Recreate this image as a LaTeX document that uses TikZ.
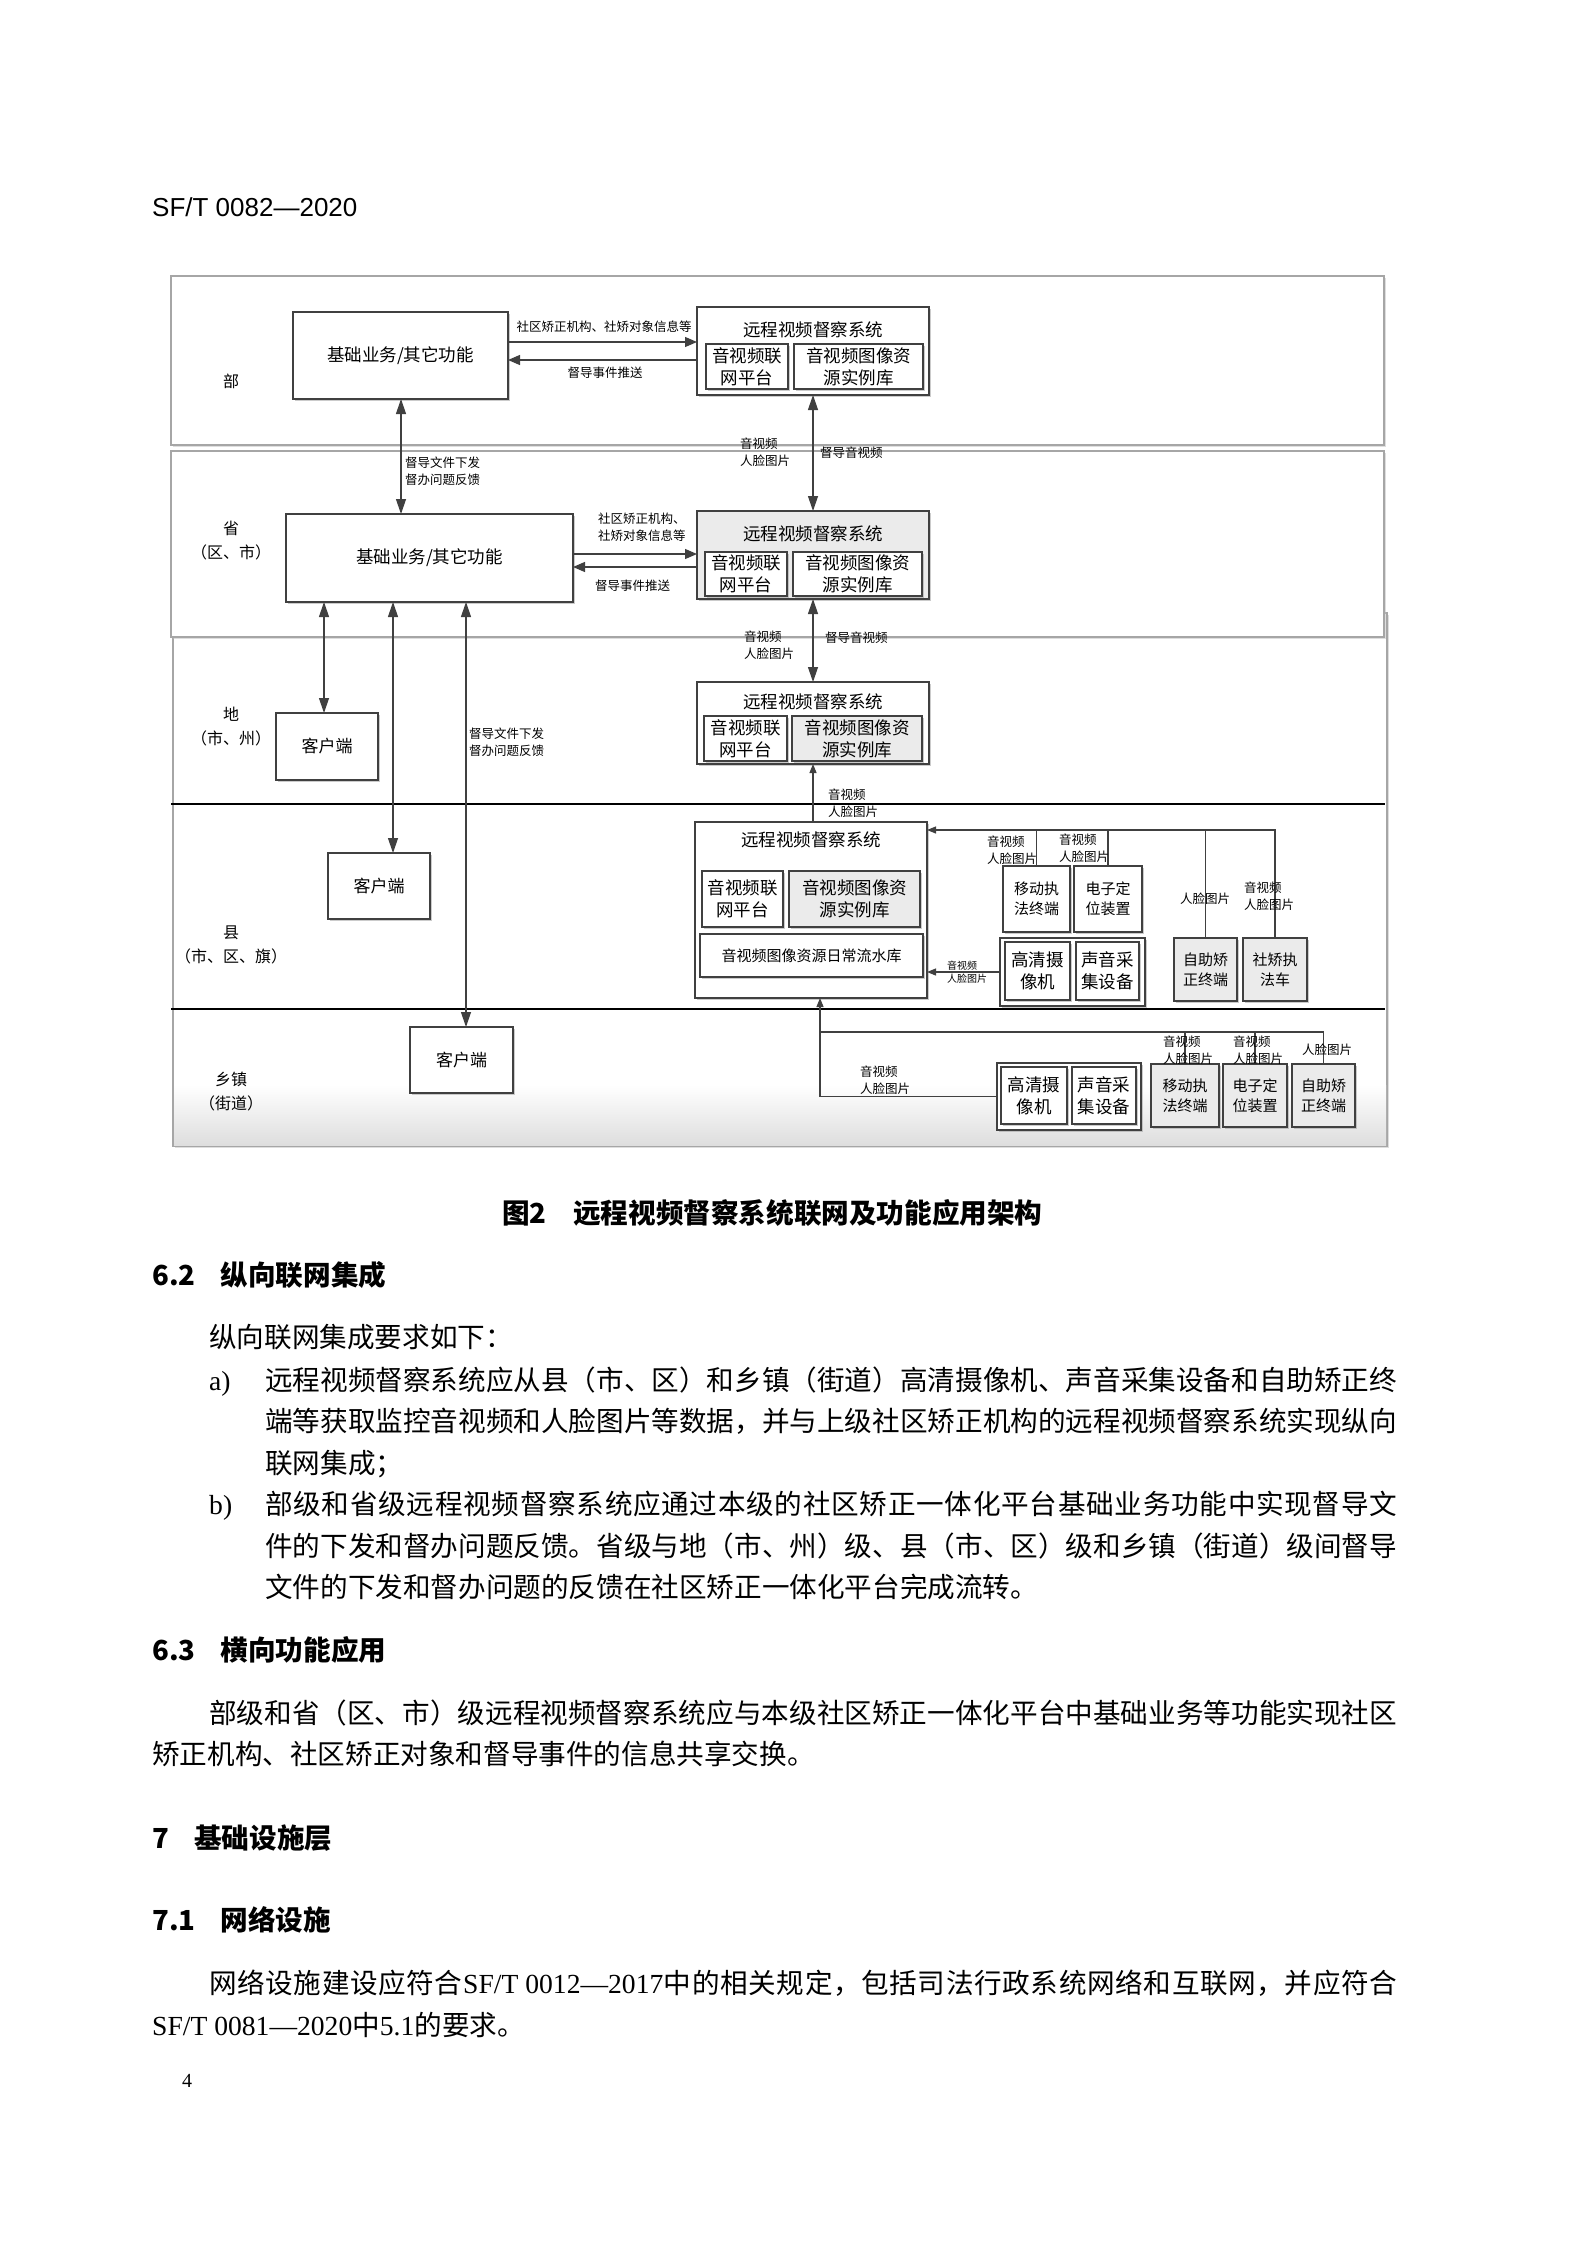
\documentclass[tikz,border=0pt]{standalone}
\usepackage{fontspec}
\usetikzlibrary{arrows.meta,shadows,fit}
\newfontfamily\cjk{Noto Sans CJK SC}
\newfontfamily\lat{Liberation Serif}
\newfontfamily\hdrf{Liberation Sans}
\definecolor{ln}{HTML}{404040}
\definecolor{bd}{HTML}{A6A6A6}
\definecolor{gf}{HTML}{EBEBEB}
\makeatletter
\def\spx#1{#1\futurelet\spnext\spxb}
\def\spxb{\ifx\spnext\relax\expandafter\@gobble\else\hfil\expandafter\spx\fi}
\makeatother
\newcommand{\jl}[2]{\hbox to #1{\spx#2\relax}}
\newcommand{\lt}[1]{\mbox{\lat #1}}
\begin{document}
\begin{tikzpicture}[x=1pt,y=-1pt,
  band/.style={draw=bd, line width=1.5pt, fill=white, inner sep=0pt, outer sep=0pt,
     drop shadow={shadow xshift=2pt,shadow yshift=-2pt,fill=black!25}},
  box/.style={draw=ln, line width=1.2pt, fill=white, inner sep=0pt, outer sep=0pt, align=center,
     font=\cjk\fontsize{17.5}{22}\selectfont,
     drop shadow={shadow xshift=1.5pt,shadow yshift=-1.5pt,fill=black!40}},
  gbox/.style={box, fill=gf},
  sz/.style 2 args={minimum width=#1, minimum height=#2},
  mid/.style={font=\cjk\fontsize{15}{20}\selectfont},
  kfont/.style={font=\cjk\fontsize{17}{22}\selectfont},
  ttl/.style={inner sep=0pt, font=\cjk\fontsize{17.5}{22}\selectfont},
  lv/.style={inner sep=0pt, align=center, font=\cjk\fontsize{16}{24}\selectfont},
  lbl/.style={inner sep=0pt, anchor=west, align=left, font=\cjk\fontsize{12.5}{17.5}\selectfont},
  lblc/.style={inner sep=0pt, font=\cjk\fontsize{12.5}{17.5}\selectfont},
  tiny/.style={inner sep=0pt, anchor=west, align=left, font=\cjk\fontsize{10}{13}\selectfont},
  sep/.style={draw=black, line width=1.5pt},
  cn/.style={draw=ln, line width=1.2pt},
  arr/.style={cn, >={Triangle[length=12pt,width=10pt]}, ->},
  dbl/.style={cn, >={Triangle[length=15pt,width=10pt]}, <->},
  sarr/.style={cn, >={Triangle[length=9pt,width=7pt]}, ->},
  body/.style={inner sep=0pt, anchor=base west, font=\cjk\fontsize{27.6}{41.5}\selectfont},
  hd/.style={inner sep=0pt, anchor=base west, font=\cjk\bfseries\fontsize{27.6}{41.5}\selectfont}
]
\fill[white] (0,0) rectangle (1587,2245);
\useasboundingbox (0,0) rectangle (1587,2245);

% ---------- page text ----------
\node[inner sep=0pt, anchor=base west, font=\hdrf\fontsize{26}{30}\selectfont] (hdr) at (152,216) {SF/T 0082—2020};

% ---------- bands ----------
\node[band, fit={(173,613)(1387,1146)}] (bandL) {};
\shade[top color=white, bottom color=black!13] (174,1085) rectangle (1386,1145);
\node[band, fit={(171,276)(1384,445)}] (bandB) {};
\node[band, fit={(171,451)(1384,637)}] (bandS) {};
\draw[sep] (171,804) -- (1385,804);
\draw[sep] (171,1009) -- (1385,1009);

% level labels
\node[lv] (lvB) at (231,381) {部};
\node[lv] (lvS) at (231,541) {省\\（区、市）};
\node[lv] (lvD) at (231,727) {地\\（市、州）};
\node[lv] (lvX) at (231,945) {县\\（市、区、旗）};
\node[lv] (lvZ) at (231,1092) {乡镇\\（街道）};

% ---------- 部 ----------
\node[box, sz={215}{87}] (jb1) at (400.5,355.5) {基础业务/其它功能};
\node[box, sz={232}{88}] (rs1) at (813,351) {};
\node[ttl] (t1) at (813,330) {远程视频督察系统};
\node[box, sz={82}{45}] (rs1a) at (747,366.5) {音视频联\\网平台};
\node[box, sz={129}{45}] (rs1b) at (858.5,366.5) {音视频图像资\\源实例库};

% ---------- 省 ----------
\node[box, sz={287}{88}] (jb2) at (429.5,558) {基础业务/其它功能};
\node[gbox, sz={232}{88}] (rs2) at (813,555) {};
\node[ttl] (t2) at (813,534) {远程视频督察系统};
\node[box, sz={82}{44}] (rs2a) at (746,574) {音视频联\\网平台};
\node[box, sz={129}{44}] (rs2b) at (857.5,574) {音视频图像资\\源实例库};

% ---------- 地 ----------
\node[box, kfont, sz={102}{67}] (kh1) at (327,746.5) {客户端};
\node[box, sz={232}{82}] (rs3) at (813,723) {};
\node[ttl] (t3) at (813,702) {远程视频督察系统};
\node[box, sz={83}{45}] (rs3a) at (745.5,738.5) {音视频联\\网平台};
\node[gbox, sz={130}{45}] (rs3b) at (857,738.5) {音视频图像资\\源实例库};

% ---------- 县 ----------
\node[box, kfont, sz={102}{66}] (kh2) at (379,886) {客户端};
\node[box, sz={232}{176}] (rs4) at (811,910) {};
\node[ttl] (t4) at (811,840) {远程视频督察系统};
\node[box, sz={81}{56}] (rs4a) at (742.5,899) {音视频联\\网平台};
\node[gbox, sz={131}{56}] (rs4b) at (854.5,899) {音视频图像资\\源实例库};
\node[box, mid, sz={223}{43}] (rs4c) at (811.5,955.5) {音视频图像资源日常流水库};
\node[box, mid, sz={67}{66}] (yd4) at (1036.5,899) {移动执\\法终端};
\node[box, mid, sz={68}{66}] (dz4) at (1108,899) {电子定\\位装置};
\node[box, sz={145}{68}] (grp4) at (1072.5,972) {};
\node[box, sz={65}{58}] (gq4) at (1037.5,971) {高清摄\\像机};
\node[box, sz={63}{58}] (sy4) at (1107.5,971) {声音采\\集设备};
\node[gbox, mid, sz={63}{63}] (zz4) at (1205.5,969.5) {自助矫\\正终端};
\node[gbox, mid, sz={64}{63}] (sj4) at (1275,969.5) {社矫执\\法车};

% ---------- 乡镇 ----------
\node[box, kfont, sz={103}{66}] (kh3) at (461.5,1060) {客户端};
\node[box, sz={144}{67}] (grp5) at (1069,1096.5) {};
\node[box, sz={66}{57}] (gq5) at (1034,1095.5) {高清摄\\像机};
\node[box, sz={64}{57}] (sy5) at (1104,1095.5) {声音采\\集设备};
\node[gbox, mid, sz={68}{63}] (yd5) at (1185,1095.5) {移动执\\法终端};
\node[gbox, mid, sz={64}{63}] (dz5) at (1255,1095.5) {电子定\\位装置};
\node[gbox, mid, sz={63}{63}] (zz5) at (1323.5,1095.5) {自助矫\\正终端};

% ---------- coordinates ----------
\coordinate (h1) at (0,342);
\coordinate (h2) at (0,360);
\coordinate (h3) at (0,554);
\coordinate (h4) at (0,567);
\coordinate (v1) at (401,0);
\coordinate (x324) at (324,0);
\coordinate (x393) at (393,0);
\coordinate (x466) at (466,0);
\coordinate (x820) at (820,0);
\coordinate (b4) at (0,830);
\coordinate (b5) at (0,1032);

% ---------- connectors ----------
\draw[arr] (jb1.east |- h1) -- (rs1.west |- h1);
\draw[arr] (rs1.west |- h2) -- (jb1.east |- h2);
\draw[arr] (jb2.east |- h3) -- (rs2.west |- h3);
\draw[arr] (rs2.west |- h4) -- (jb2.east |- h4);
\draw[dbl] (jb1.south -| v1) -- (jb2.north -| v1);
\draw[dbl] (rs1.south) -- (rs2.north);
\draw[dbl] (rs2.south) -- (rs3.north);
\draw[dbl] (jb2.south -| x324) -- (kh1.north -| x324);
\draw[dbl] (jb2.south -| x393) -- (kh2.north -| x393);
\draw[dbl] (jb2.south -| x466) -- (kh3.north -| x466);
\draw[sarr] (rs4.north -| rs3.south) -- (rs3.south);
% county bus
\draw[sarr] (sj4.north) |- (rs4.east |- b4);
\draw[cn] (yd4.north) -- (yd4.north |- b4);
\draw[cn] (dz4.north) -- (dz4.north |- b4);
\draw[cn] (zz4.north) -- (zz4.north |- b4);
\draw[sarr] (grp4.west) -- (grp4.west -| rs4.east);
% township
\draw[sarr] (grp5.west) -| (rs4.south -| x820);
\draw[cn] (x820 |- b5) -| (zz5.north);
\draw[cn] (yd5.north |- b5) -- (yd5.north);
\draw[cn] (dz5.north |- b5) -- (dz5.north);

% ---------- connector labels ----------
\node[lblc] (l1) at (604,327) {社区矫正机构、社矫对象信息等};
\node[lblc] (l2) at (605,373) {督导事件推送};
\node[lbl] (l3) at (405,471) {督导文件下发\\督办问题反馈};
\node[lbl] (l4) at (740,452) {音视频\\人脸图片};
\node[lbl] (l5) at (820,453) {督导音视频};
\node[lbl] (l6) at (598,527) {社区矫正机构、\\社矫对象信息等};
\node[lbl] (l7) at (595,586) {督导事件推送};
\node[lbl] (l8) at (469,742) {督导文件下发\\督办问题反馈};
\node[lbl] (l9) at (744,645) {音视频\\人脸图片};
\node[lbl] (l10) at (825,638) {督导音视频};
\node[lbl] (l11) at (828,803) {音视频\\人脸图片};
\node[lbl] (l12) at (987,850) {音视频\\人脸图片};
\node[lbl] (l13) at (1059,848) {音视频\\人脸图片};
\node[lbl] (l14) at (1180,899) {人脸图片};
\node[lbl] (l15) at (1244,896) {音视频\\人脸图片};
\node[tiny] (l16) at (947,972) {音视频\\人脸图片};
\node[lbl] (l17) at (860,1080) {音视频\\人脸图片};
\node[lbl] (l18) at (1163,1050) {音视频\\人脸图片};
\node[lbl] (l19) at (1233,1050) {音视频\\人脸图片};
\node[lbl] (l20) at (1302,1050) {人脸图片};

% ---------- caption and body ----------
\node[hd] (capn) at (502,1223) {图2};
\node[hd] (cap) at (573,1223) {远程视频督察系统联网及功能应用架构};
\node[hd] (h62n) at (152,1285) {6.2};
\node[hd] (h62) at (220.5,1285) {纵向联网集成};
\node[body] (p1) at (209,1347) {纵向联网集成要求如下：};
\node[body] (p2n) at (209,1390) {\lt{a)}};
\node[body] (p2) at (265,1390) {\jl{1132pt}{远程视频督察系统应从县（市、区）和乡镇（街道）高清摄像机、声音采集设备和自助矫正终}};
\node[body] (p3) at (265,1431.5) {\jl{1132pt}{端等获取监控音视频和人脸图片等数据，并与上级社区矫正机构的远程视频督察系统实现纵向}};
\node[body] (p4) at (265,1473) {联网集成；};
\node[body] (p5n) at (209,1514.5) {\lt{b)}};
\node[body] (p5) at (265,1514.5) {\jl{1132pt}{部级和省级远程视频督察系统应通过本级的社区矫正一体化平台基础业务功能中实现督导文}};
\node[body] (p6) at (265,1556) {\jl{1132pt}{件的下发和督办问题反馈。省级与地（市、州）级、县（市、区）级和乡镇（街道）级间督导}};
\node[body] (p7) at (265,1597.5) {文件的下发和督办问题的反馈在社区矫正一体化平台完成流转。};
\node[hd] (h63n) at (152,1660) {6.3};
\node[hd] (h63) at (220.5,1660) {横向功能应用};
\node[body] (p8) at (209,1723) {\jl{1188pt}{部级和省（区、市）级远程视频督察系统应与本级社区矫正一体化平台中基础业务等功能实现社区}};
\node[body] (p9) at (152,1764) {矫正机构、社区矫正对象和督导事件的信息共享交换。};
\node[hd] (h7n) at (152,1848) {7};
\node[hd] (h7) at (194,1848) {基础设施层};
\node[hd] (h71n) at (152,1930) {7.1};
\node[hd] (h71) at (220.5,1930) {网络设施};
\node[body] (p10) at (209,1993) {\jl{1188pt}{网络设施建设应符合{\lt{SF/T 0012—2017}}中的相关规定，包括司法行政系统网络和互联网，并应符合}};
\node[body] (p11) at (152,2035) {\lt{SF/T 0081—2020}中\lt{5.1}的要求。};
\node[inner sep=0pt, anchor=base west, font=\lat\fontsize{20}{24}\selectfont] (pg) at (182,2087) {4};
\end{tikzpicture}
\end{document}
